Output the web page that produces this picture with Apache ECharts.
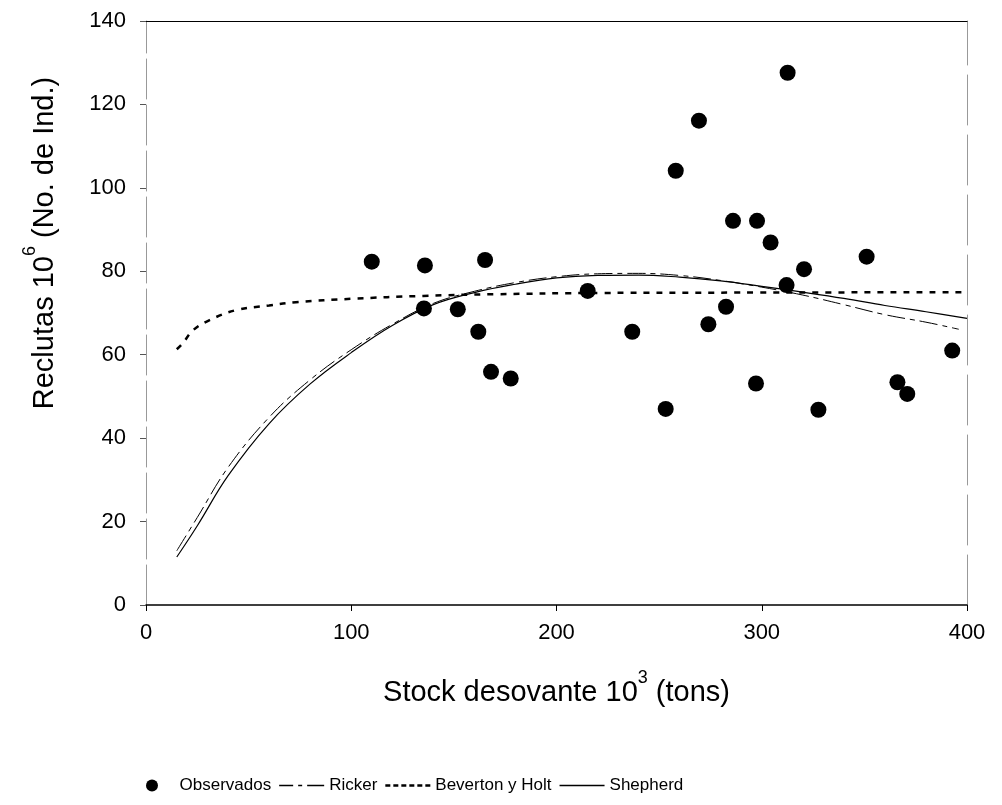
<!DOCTYPE html>
<html>
<head>
<meta charset="utf-8">
<script src="https://cdn.jsdelivr.net/npm/echarts@6/dist/echarts.min.js"></script>
<style>html,body{margin:0;padding:0;background:#fff;}#c{width:1002px;height:805px;}</style>
</head>
<body>
<div id="c"></div>
<script>
// Observed data
const stockObs = [110.0,135.9,165.2,135.4,151.9,161.9,168.1,177.7,215.2,236.9,253.2,258.1,269.4,274.0,282.6,286.0,297.2,297.7,304.3,312.1,312.6,320.6,327.6,351.1,366.1,370.9,392.8];
const reclObs  = [82.3,81.4,82.7,71.1,70.9,65.5,55.9,54.3,75.3,65.5,47.0,104.1,116.1,67.3,71.5,92.1,53.1,92.1,86.9,76.7,127.6,80.5,46.8,83.5,53.4,50.6,61.0];

// Fitted curves
const rickerX = [15,25,40,60,80,100,120,140,160,180,200,220,240,260,280,300,320,340,360,380,396];
const rickerY = [13,21,33,45,54,61.2,67.3,72.3,75.2,77.3,78.7,79.4,79.5,79,77.8,76.2,74.3,72,69.6,67.8,66.1];
const shepherdX = [15,25,40,60,80,100,120,140,160,180,200,220,240,260,280,300,320,340,360,380,400];
const shepherdY = [11.5,19,31,43.5,53,60.5,67,72,74.9,76.9,78.4,79,79.1,78.6,77.7,76.4,75,73.5,71.8,70.3,68.7];
const bhX = [15,18,23,31,44,60,73,100,135,170,220,300,400];
const bhY = [61.3,62.8,65.9,68.3,70.7,71.8,72.6,73.4,74.1,74.5,74.8,74.9,75];

const xTicks = [0,100,200,300,400];
const yTicks = [0,20,40,60,80,100,120,140];

const zip = (a,b) => a.map((v,i)=>[v,b[i]]);
const FONT = 'Liberation Sans, Arial, sans-serif';

const chart = echarts.init(document.getElementById('c'));
chart.setOption({
  animation: false,
  backgroundColor: '#fff',
  grid: {left: 146, right: 35, top: 21, bottom: 200, containLabel: false},
  xAxis: [{
    type: 'value', min: xTicks[0], max: xTicks[xTicks.length-1], interval: 100,
    position: 'bottom',
    axisLine: {show: true, onZero: false, lineStyle: {color: '#000', width: 1.5}},
    axisTick: {show: true, inside: false, length: 6, lineStyle: {color: '#000'}},
    axisLabel: {color: '#000', fontSize: 22, fontFamily: FONT, margin: 17},
    splitLine: {show: false},
    name: '{t|Stock desovante 10}{s|3}{t| (tons)}',
    nameLocation: 'middle', nameGap: 64,
    nameTextStyle: {rich: {
      t: {fontSize: 29, fontFamily: FONT, color: '#000', verticalAlign: 'bottom', lineHeight: 38},
      s: {fontSize: 18, fontFamily: FONT, color: '#000', verticalAlign: 'top', padding: [0,0,16,0], lineHeight: 38}
    }}
  }, {
    type: 'value', min: 0, max: 400, position: 'top',
    axisLine: {show: true, onZero: false, lineStyle: {color: '#000', width: 1.2}},
    axisTick: {show: false}, axisLabel: {show: false}, splitLine: {show: false}
  }],
  yAxis: [{
    type: 'value', min: yTicks[0], max: yTicks[yTicks.length-1], interval: 20,
    position: 'left',
    axisLine: {show: true, onZero: false, lineStyle: {color: '#999', width: 1, type: [40,6]}},
    axisTick: {show: true, inside: false, length: 6, lineStyle: {color: '#555'}},
    axisLabel: {color: '#000', fontSize: 22, fontFamily: FONT, margin: 20},
    splitLine: {show: false}
  }, {
    type: 'value', min: 0, max: 140, position: 'right',
    axisLine: {show: true, onZero: false, lineStyle: {color: '#999', width: 1, type: [50,10]}},
    axisTick: {show: false}, axisLabel: {show: false}, splitLine: {show: false}
  }],
  legend: {
    show: true, left: 141, top: 772,
    itemWidth: 45, itemHeight: 12, itemGap: 8,
    textStyle: {color: '#000', fontSize: 17, fontFamily: FONT},
    data: [
      {name: 'Observados', icon: 'circle'},
      {name: 'Ricker', icon: 'path://M0,0h14v1.5h-14z M19,0h4v1.5h-4z M28,0h17v1.5h-17z'},
      {name: 'Beverton y Holt', icon: 'path://M0,0h5v2.5h-5z M8,0h5v2.5h-5z M16,0h5v2.5h-5z M24,0h5v2.5h-5z M32,0h5v2.5h-5z M40,0h5v2.5h-5z'},
      {name: 'Shepherd', icon: 'path://M0,0h45v1.5h-45z'}
    ]
  },
  graphic: [{
    type: 'text',
    x: 40, y: 243, rotation: Math.PI/2,
    style: {
      text: '{t|Reclutas 10}{s|6}{t| (No. de Ind.)}',
      align: 'center', verticalAlign: 'middle',
      rich: {
        t: {fontSize: 29, fontFamily: FONT, fill: '#000', verticalAlign: 'bottom', lineHeight: 38},
        s: {fontSize: 18, fontFamily: FONT, fill: '#000', verticalAlign: 'top', padding: [0,0,16,0], lineHeight: 38}
      }
    }
  }],
  series: [{
    name: 'Observados', type: 'scatter',
    data: zip(stockObs, reclObs),
    symbol: 'circle', symbolSize: 16,
    itemStyle: {color: '#000', opacity: 1}, z: 5
  }, {
    name: 'Ricker', type: 'line', smooth: 0.4,
    data: zip(rickerX, rickerY), showSymbol: false, symbol: 'none',
    lineStyle: {color: '#000', width: 1, type: [18,5,5,5]},
    itemStyle: {color: '#000'}
  }, {
    name: 'Beverton y Holt', type: 'line', smooth: 0.4,
    data: zip(bhX, bhY), showSymbol: false, symbol: 'none',
    lineStyle: {color: '#000', width: 2.5, type: [6,7]},
    itemStyle: {color: '#000'}
  }, {
    name: 'Shepherd', type: 'line', smooth: 0.4,
    data: zip(shepherdX, shepherdY), showSymbol: false, symbol: 'none',
    lineStyle: {color: '#000', width: 1.2, type: 'solid'},
    itemStyle: {color: '#000'}
  }]
});
</script>
</body>
</html>
